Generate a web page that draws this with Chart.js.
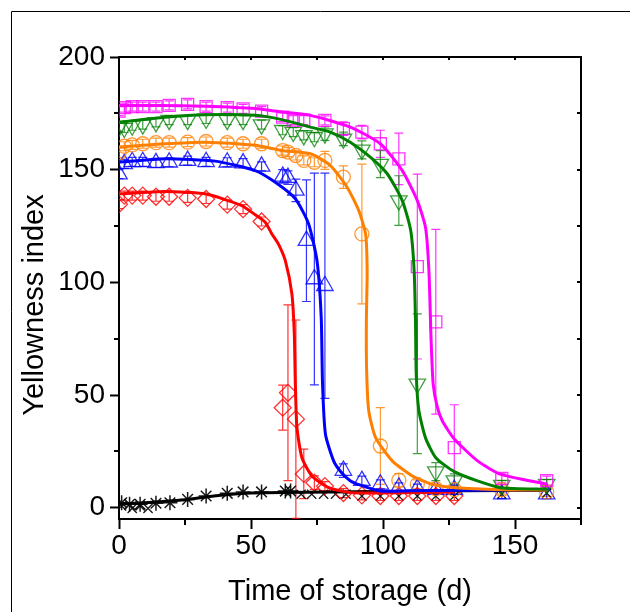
<!DOCTYPE html>
<html><head><meta charset="utf-8">
<script src="https://cdn.jsdelivr.net/npm/chart.js@4"></script>
<style>html,body{margin:0;padding:0;background:#fff;}canvas{display:block;}</style>
</head><body>
<canvas id="c" width="630" height="612"></canvas>
<script>
// ---------- data ----------
const xTitle = 'Time of storage (d)';
const yTitle = 'Yellowness index';
const xTicks = [0, 50, 100, 150];
const yTicks = [0, 50, 100, 150, 200];
const xMinor = [25, 75, 125, 175];
const yMinor = [25, 75, 125, 175];

// magenta squares
const magDays = [0,2,5,9,14,19,26,33,41,47,54,62,66,70,78,85,92,99,106,113,120,127,145,162];
const magVals = [176,177.5,178,178,178,178.5,179,178,177.5,177,176,173.3,172,172,171.9,168.2,166.7,161.5,154.8,107,82.5,26.7,13,12];
const magErr  = [2,2,2,2,2,2,2,2,2,2,2,2,2,2,2,3,3,6,11.4,41,41,19,2,2];
const magFitX = [0,15,32.6,51.6,61.7,72.5,87.6,99,107.3,113,116.1,117.4,118.2,119,120.5,122.5,127,135.8,144.6,162.4];
const magFitY = [178.5,178.5,178.1,177.1,175.6,174.1,168.9,161.5,149.6,136.3,124.4,105,75,55,45,38.5,30.5,20.8,14.8,10.4];

// green down-triangles
const grnDays = [0,2,5,9,14,19,26,33,41,47,54,62,66,70,74,78,85,92,99,106,113,120,127,145,162];
const grnVals = [169,168.5,169.5,170,171,172,172,172.5,172,172,170,167.5,166.7,165.2,164.4,166,163.7,158.8,152.5,136.3,55,16,12,10,10.5];
const grnErr  = [2,2,2,2,2,2,2,2,2,2,2,2,2,2,2,3,3,4,6,11,31,4,3,2,2];
const grnFitX = [0,17.4,32.6,51.6,61.7,72.5,80,87.6,95.2,101.6,107.3,110.5,111.8,112.3,112.6,113.6,116.1,120,127,135.8,144.6,162.4];
const grnFitY = [171.1,173.3,174.4,174.1,172.2,168.9,166.7,162.2,155.6,148.2,136.3,123,105,83,59,43,31,22.2,16,11.9,8.9,8.2];

// orange circles
const orgDays = [0,2,5,9,14,19,26,33,41,47,54,62,64,67,70,74,78,85,92,99,106,113,120,127,145,162];
const orgVals = [157.5,160.4,161,161.5,162,162,162.2,162.5,162,161.5,161.5,158.5,157.8,156.3,154.1,153.3,154.1,146.7,121.5,27.4,12.2,10.4,8.5,8,8,7];
const orgErr  = [2,2,2,2,2,2,2,2,2,2,2,2,2,2,2,2,4,5,31,17,3,2,2,2,2,2];
const orgFitX = [0,17.4,32.6,51.6,61.7,72.5,80,86.4,90.8,93.4,94,93.7,93.8,94.6,97.2,103.5,111.1,118.7,127.5,145,162];
const orgFitY = [160,161.5,162.2,160.8,158.5,157.1,151.9,142.2,131.9,121.5,105,83,61,43,31.1,20.8,14.1,10.4,8.9,8,7.8];

// blue up-triangles
const bluDays = [0,2,5,9,14,19,26,33,41,47,54,62,64,67,71,74,78,85,92,99,106,113,120,127,145,162];
const bluVals = [148,152.6,153.5,153.5,153,153.3,154,153.5,153.3,152.9,151.5,147,146.5,140.8,118.5,101.5,98.5,16.5,12,10.4,9,8.5,8,8,6,6];
const bluErr  = [2,2,2,2,2,2,2,2,2,2,2,3,3,5,27,47,50,3,2,2,2,2,2,2,2,2];
const bluFitX = [0,17.4,36.4,51.6,59.2,66.8,71.8,75,76.6,77.1,78.2,81.3,84,87.7,91.5,99,110,130,162];
const bluFitY = [153.3,154.8,153.8,149.6,144.4,137.1,126,109.6,84.4,54.8,32.6,20.8,16,11.9,10,7.4,7.5,7.8,8];

// red diamonds
const redDays = [0,2,5,9,14,19,26,33,41,47,54,62,64,67,70,74,78,85,92,99,106,113,120,127];
const redVals = [134.7,138.5,138.5,138.5,138,138,137.5,137,134.5,132.5,127,44.4,51,39.3,15,11.1,9.6,6.5,5.5,5.2,5.2,5.2,5.2,5.2];
const redErr  = [2,2,2,2,2,2,2,2,2,2,2,10,39,44,11,3,2,2,2,2,2,2,2,2];
const redFitX = [0,17.4,32.6,46.5,51.6,55.4,57.9,60.4,63,65.5,66.4,66.8,67.4,69.3,73.1,79.4,87.7,100,127];
const redFitY = [139.3,140.3,139.3,134.1,130,126.7,121.5,117,109.6,94.8,77,54.8,35.6,22.2,14.1,8.9,6.7,6.5,7];

// black asterisks and crosses
const astDays = [1,4,8,14,19.3,26,33,41,47,54,63,65];
const astVals = [2.2,1.5,1.5,2,2.2,3.7,5.2,6.4,7,7,7.4,7.4];
const crsDays = [1,5,8,11,69,73,77.5,82,86,92,99,106,113,120,127,145,162];
const crsVals = [0.8,-0.3,0.8,-0.3,6,6,6,6,6,5.2,5.2,5.2,5.2,5.2,5.2,6,6.5];
const blkFitX = [0,10,23.7,33,42.7,50,61.7,80,100,130,162];
const blkFitY = [1.5,2.2,3.4,4.8,6,6.5,6.8,7,7.2,7.5,7.7];

// ---------- build chart ----------
const pts = (xs, ys) => xs.map((x, i) => ({x: x, y: ys[i]}));
const FONT = "'Liberation Sans', Arial, sans-serif";

function fit(xs, ys, color) {
  return {data: pts(xs, ys), showLine: true, pointRadius: 0, borderColor: color,
          borderWidth: 3, fill: false, tension: 0.2, order: 0};
}
function marks(xs, ys, err, color, style, r, rot, bw) {
  return {data: pts(xs, ys), showLine: false, pointStyle: style, pointRadius: r,
          rotation: rot || 0, borderColor: color, pointBorderColor: color,
          backgroundColor: 'rgba(0,0,0,0)', pointBackgroundColor: 'rgba(0,0,0,0)',
          pointBorderWidth: bw || 1.3, err: err, order: 1};
}

const cMag = 'rgba(255,0,255,0.8)', cGrn = 'rgba(0,128,0,0.75)', cOrg = 'rgba(255,128,0,0.8)',
      cBlu = 'rgba(0,0,255,0.8)', cRed = 'rgba(255,0,0,0.8)', cBlk = 'rgba(0,0,0,0.9)';

const errorBars = {
  id: 'errorBars',
  beforeDatasetsDraw(chart) {
    const {ctx, chartArea: a, scales} = chart;
    const x = scales.x, y = scales.y;
    ctx.save();
    ctx.beginPath(); ctx.rect(a.left, a.top, a.right - a.left, a.bottom - a.top); ctx.clip();
    chart.data.datasets.forEach(ds => {
      if (!ds.err) return;
      ctx.strokeStyle = ds.borderColor; ctx.lineWidth = 1.2;
      ds.data.forEach((p, i) => {
        const e = ds.err[i]; if (!e) return;
        const px = x.getPixelForValue(p.x);
        const y1 = y.getPixelForValue(p.y + e), y2 = y.getPixelForValue(p.y - e);
        ctx.beginPath();
        ctx.moveTo(px, y1); ctx.lineTo(px, y2);
        ctx.moveTo(px - 4.5, y1); ctx.lineTo(px + 4.5, y1);
        ctx.moveTo(px - 4.5, y2); ctx.lineTo(px + 4.5, y2);
        ctx.stroke();
      });
    });
    ctx.restore();
  }
};

const frame = {
  id: 'frame',
  afterDraw(chart) {
    const {ctx, chartArea: a, scales} = chart;
    const x = scales.x, y = scales.y;
    ctx.save();
    // outer frame
    ctx.strokeStyle = '#000'; ctx.lineWidth = 1;
    ctx.beginPath(); ctx.moveTo(11.5, 612); ctx.lineTo(11.5, 11.5); ctx.lineTo(630, 11.5); ctx.stroke();
    // top & right axis lines
    ctx.lineWidth = 2;
    ctx.beginPath(); ctx.moveTo(a.left - 1, a.top); ctx.lineTo(a.right, a.top); ctx.lineTo(a.right, a.bottom + 1); ctx.stroke();
    // minor ticks outward on left & bottom
    ctx.beginPath();
    yMinor.forEach(v => { const py = Math.round(y.getPixelForValue(v)); ctx.moveTo(a.left, py); ctx.lineTo(a.left - 5, py); });
    xMinor.forEach(v => { const px = Math.round(x.getPixelForValue(v)); ctx.moveTo(px, a.bottom); ctx.lineTo(px, a.bottom + 6); });
    // inward ticks on right & top
    yTicks.concat(yMinor).forEach(v => { const py = Math.round(y.getPixelForValue(v)); ctx.moveTo(a.right, py); ctx.lineTo(a.right - 4, py); });
    xTicks.concat(xMinor).forEach(v => { const px = Math.round(x.getPixelForValue(v)); ctx.moveTo(px, a.top); ctx.lineTo(px, a.top + 3); });
    ctx.stroke();
    // axis titles
    ctx.fillStyle = '#000';
    ctx.font = '29px ' + FONT;
    ctx.textAlign = 'center'; ctx.textBaseline = 'alphabetic';
    ctx.fillText(xTitle, (a.left + a.right) / 2, 600);
    ctx.translate(43, 305); ctx.rotate(-Math.PI / 2);
    ctx.fillText(yTitle, 0, 0);
    ctx.restore();
  }
};

new Chart(document.getElementById('c'), {
  type: 'scatter',
  data: { datasets: [
    fit(magFitX, magFitY, '#ff00ff'),
    fit(grnFitX, grnFitY, '#008000'),
    fit(orgFitX, orgFitY, '#ff8000'),
    fit(bluFitX, bluFitY, '#0000ff'),
    fit(redFitX, redFitY, '#ff0000'),
    fit(blkFitX, blkFitY, '#000000'),
    marks(magDays, magVals, magErr, cMag, 'rect', 8.5),
    marks(grnDays, grnVals, grnErr, cGrn, 'triangle', 9.5, 180),
    marks(orgDays, orgVals, orgErr, cOrg, 'circle', 7),
    marks(bluDays, bluVals, bluErr, cBlu, 'triangle', 9.5),
    marks(redDays, redVals, redErr, cRed, 'rectRot', 8.5),
    marks(astDays, astVals, null, cBlk, 'star', 7.5, 0, 1.5),
    marks(crsDays, crsVals, null, cBlk, 'crossRot', 6.5, 0, 1.3)
  ]},
  options: {
    responsive: false, animation: false, devicePixelRatio: 1,
    layout: { padding: {left: 0, right: 49, top: 57, bottom: 0} },
    plugins: { legend: {display: false}, tooltip: {enabled: false} },
    scales: {
      x: { type: 'linear', min: 0, max: 175,
        afterBuildTicks: s => { s.ticks = xTicks.map(v => ({value: v})); },
        afterFit: s => { s.height = 93; },
        grid: { display: true, drawOnChartArea: false, drawTicks: true, tickLength: 10, tickWidth: 2, tickColor: '#000' },
        border: { display: true, width: 2, color: '#000' },
        ticks: { font: {family: FONT, size: 28}, color: '#000', padding: 0, maxRotation: 0 }
      },
      y: { type: 'linear', min: -5, max: 200,
        afterBuildTicks: s => { s.ticks = yTicks.map(v => ({value: v})); },
        afterFit: s => { s.width = 119; },
        grid: { display: true, drawOnChartArea: false, drawTicks: true, tickLength: 9, tickWidth: 2, tickColor: '#000' },
        border: { display: true, width: 2, color: '#000' },
        ticks: { font: {family: FONT, size: 28}, color: '#000', padding: 5 }
      }
    }
  },
  plugins: [errorBars, frame]
});
</script>
</body></html>
